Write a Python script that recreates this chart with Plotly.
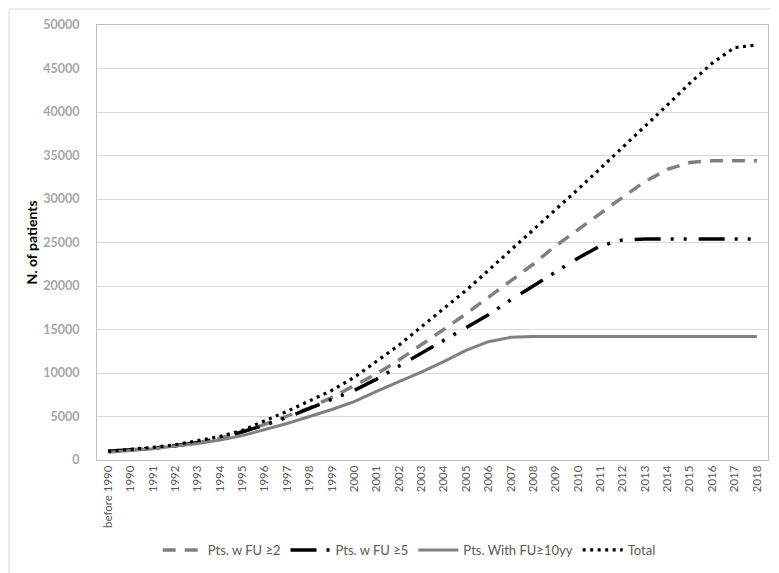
import plotly.graph_objects as go

categories = ["before 1990"] + [str(y) for y in range(1990, 2019)]

total = [1000, 1200, 1450, 1750, 2200, 2700, 3400, 4500, 5600, 6800,
         8000, 9500, 11300, 13200, 15300, 17400, 19500, 21800, 24100, 26400,
         28700, 31100, 33500, 35900, 38300, 40800, 43300, 45600, 47400, 47700]
fu2 = [1000, 1150, 1350, 1650, 2000, 2500, 3200, 4100, 5000, 6000,
       7200, 8500, 9900, 11500, 13200, 15000, 16800, 18700, 20500, 22500,
       24600, 26500, 28400, 30200, 32000, 33400, 34200, 34400, 34400, 34400]
fu5 = [1000, 1150, 1350, 1650, 2000, 2500, 3200, 4000, 4900, 5900,
       6900, 8000, 9300, 10800, 12200, 13700, 15200, 16700, 18400, 20000,
       21500, 23200, 24600, 25300, 25400, 25400, 25400, 25400, 25400, 25400]
fu10 = [900, 1100, 1300, 1600, 1900, 2300, 2800, 3500, 4200, 5000,
        5800, 6700, 7900, 9000, 10100, 11300, 12600, 13600, 14100, 14200,
        14200, 14200, 14200, 14200, 14200, 14200, 14200, 14200, 14200, 14200]

series_names = ["Pts. w FU \u22652", "Pts. w FU \u22655", "Pts. With FU\u226510yy", "Total"]

fig = go.Figure()
fig.add_trace(go.Scatter(x=categories, y=fu2, mode="lines", name=series_names[0],
                         line=dict(color="#808080", width=3.5, dash="13px,9px")))
fig.add_trace(go.Scatter(x=categories, y=fu5, mode="lines", name=series_names[1],
                         line=dict(color="#000000", width=3.5, dash="26px,10px,3px,10px,3px,12px")))
fig.add_trace(go.Scatter(x=categories, y=fu10, mode="lines", name=series_names[2],
                         line=dict(color="#808080", width=3)))
fig.add_trace(go.Scatter(x=categories, y=total, mode="lines", name=series_names[3],
                         line=dict(color="#000000", width=3.2, dash="3px,4.5px")))

L, R, T, B = 89, 19, 17, 121
W, H = 779, 573
pw, ph = W - L - R, H - T - B
bottom_px = H - B

fig.update_layout(
    width=W, height=H,
    margin=dict(l=L, r=R, t=T, b=B, autoexpand=False),
    paper_bgcolor="white", plot_bgcolor="white",
    font=dict(family="Lato, Open Sans, sans-serif", color="#595959"),
    showlegend=True,
    legend=dict(orientation="h", xref="container", x=0.515, xanchor="center",
                yref="paper", y=(bottom_px - 542) / ph, yanchor="middle",
                font=dict(size=13, color="#595959"),
                traceorder="normal", itemwidth=40),
    xaxis=dict(type="category", tickangle=-90, tickfont=dict(size=11.5, color="#595959"),
               tickmode="array", tickvals=categories, ticktext=categories,
               showgrid=False, showline=True, linecolor="#bfbfbf", linewidth=1,
               mirror=True, ticks="", range=[-0.5, 29.5], automargin=False),
    yaxis=dict(range=[0, 50000], dtick=5000, tickformat="d",
               tickfont=dict(size=12.5, color="#a6a6a6", family="Lato, sans-serif", weight="bold"),
               showgrid=True, gridcolor="#d9d9d9", gridwidth=1,
               showline=True, linecolor="#bfbfbf", linewidth=1, mirror=True,
               zeroline=False, ticks="", ticklabelstandoff=14, automargin=False,
               title=dict(text="<b>N. of patients</b>", font=dict(size=14, color="#000000"),
                          standoff=2)),
)

# outer chart border
fig.add_shape(type="rect", xref="paper", yref="paper",
              x0=(1 - L) / pw, x1=(W - 2 - L) / pw,
              y0=(bottom_px - (H - 2)) / ph, y1=(bottom_px - 1) / ph,
              line=dict(color="#d9d9d9", width=1), fillcolor="rgba(0,0,0,0)", layer="below")

fig.write_html("out.html")
